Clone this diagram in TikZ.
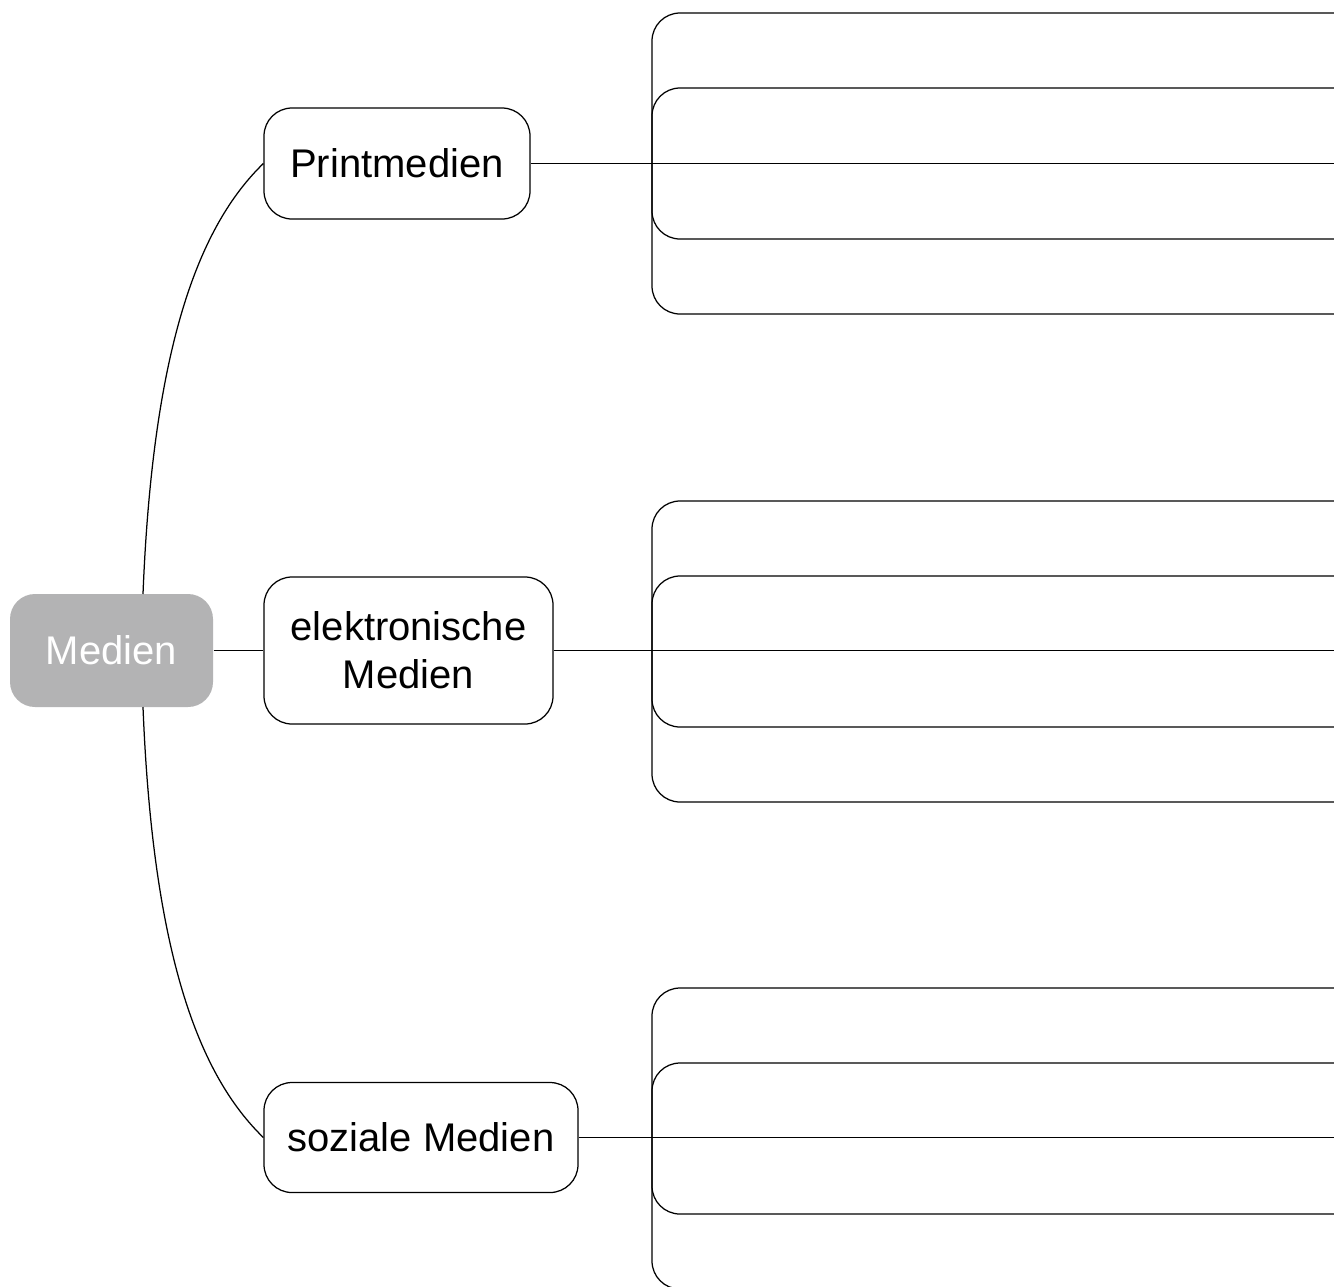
\documentclass[tikz,border=0pt]{standalone}
\usepackage{fontspec}
\setmainfont{Liberation Sans}
\definecolor{centergray}{HTML}{B3B3B4}
\begin{document}
\begin{tikzpicture}[x=1pt,y=-1pt,line width=1.25pt,
  branch/.style={draw=black,rounded corners=28pt,fill=white,align=center,inner sep=0pt,
    font=\fontsize{40}{48}\selectfont},
  center/.style={fill=centergray,rounded corners=25pt,text=white,inner sep=0pt,
    font=\fontsize{40}{48}\selectfont},
  bracket/.style={draw=black,rounded corners=28pt}]
\useasboundingbox (0,0) rectangle (1334,1286);
\clip (0,0) rectangle (1334,1286);
% brackets
\draw[bracket] (1340,13) -- (652,13) -- (652,314) -- (1340,314);
\draw[bracket] (1340,88) -- (652,88) -- (652,239) -- (1340,239);
\draw[bracket] (1340,501) -- (652,501) -- (652,802) -- (1340,802);
\draw[bracket] (1340,576) -- (652,576) -- (652,727) -- (1340,727);
\draw[bracket] (1340,988) -- (652,988) -- (652,1289) -- (1340,1289);
\draw[bracket] (1340,1063) -- (652,1063) -- (652,1214) -- (1340,1214);
% nodes
\node[center,minimum width=203pt,minimum height=113pt] (M) at (111.5,650.5) {Medien};
\node[branch,minimum width=266pt,minimum height=111pt] (P) at (397,163.5) {Printmedien};
\node[branch,minimum width=289pt,minimum height=147pt] (E) at (408.5,650.5) {elektronische\\Medien};
\node[branch,minimum width=314pt,minimum height=110pt] (S) at (421,1137.5) {soziale Medien};
% free ends
\coordinate (Pend) at (1340,163.5);
\coordinate (Eend) at (1340,650.5);
\coordinate (Send) at (1340,1137.5);
\coordinate (Mtop) at (143,594);
\coordinate (Mbot) at (143,707);
% connectors
\draw (M.east) -- (E.west);
\draw (P.east) -- (Pend);
\draw (E.east) -- (Eend);
\draw (S.east) -- (Send);
\draw (Mtop) .. controls (153,343) and (200,225) .. (P.west);
\draw (Mbot) .. controls (153,958) and (200,1076) .. (S.west);
\end{tikzpicture}
\end{document}
